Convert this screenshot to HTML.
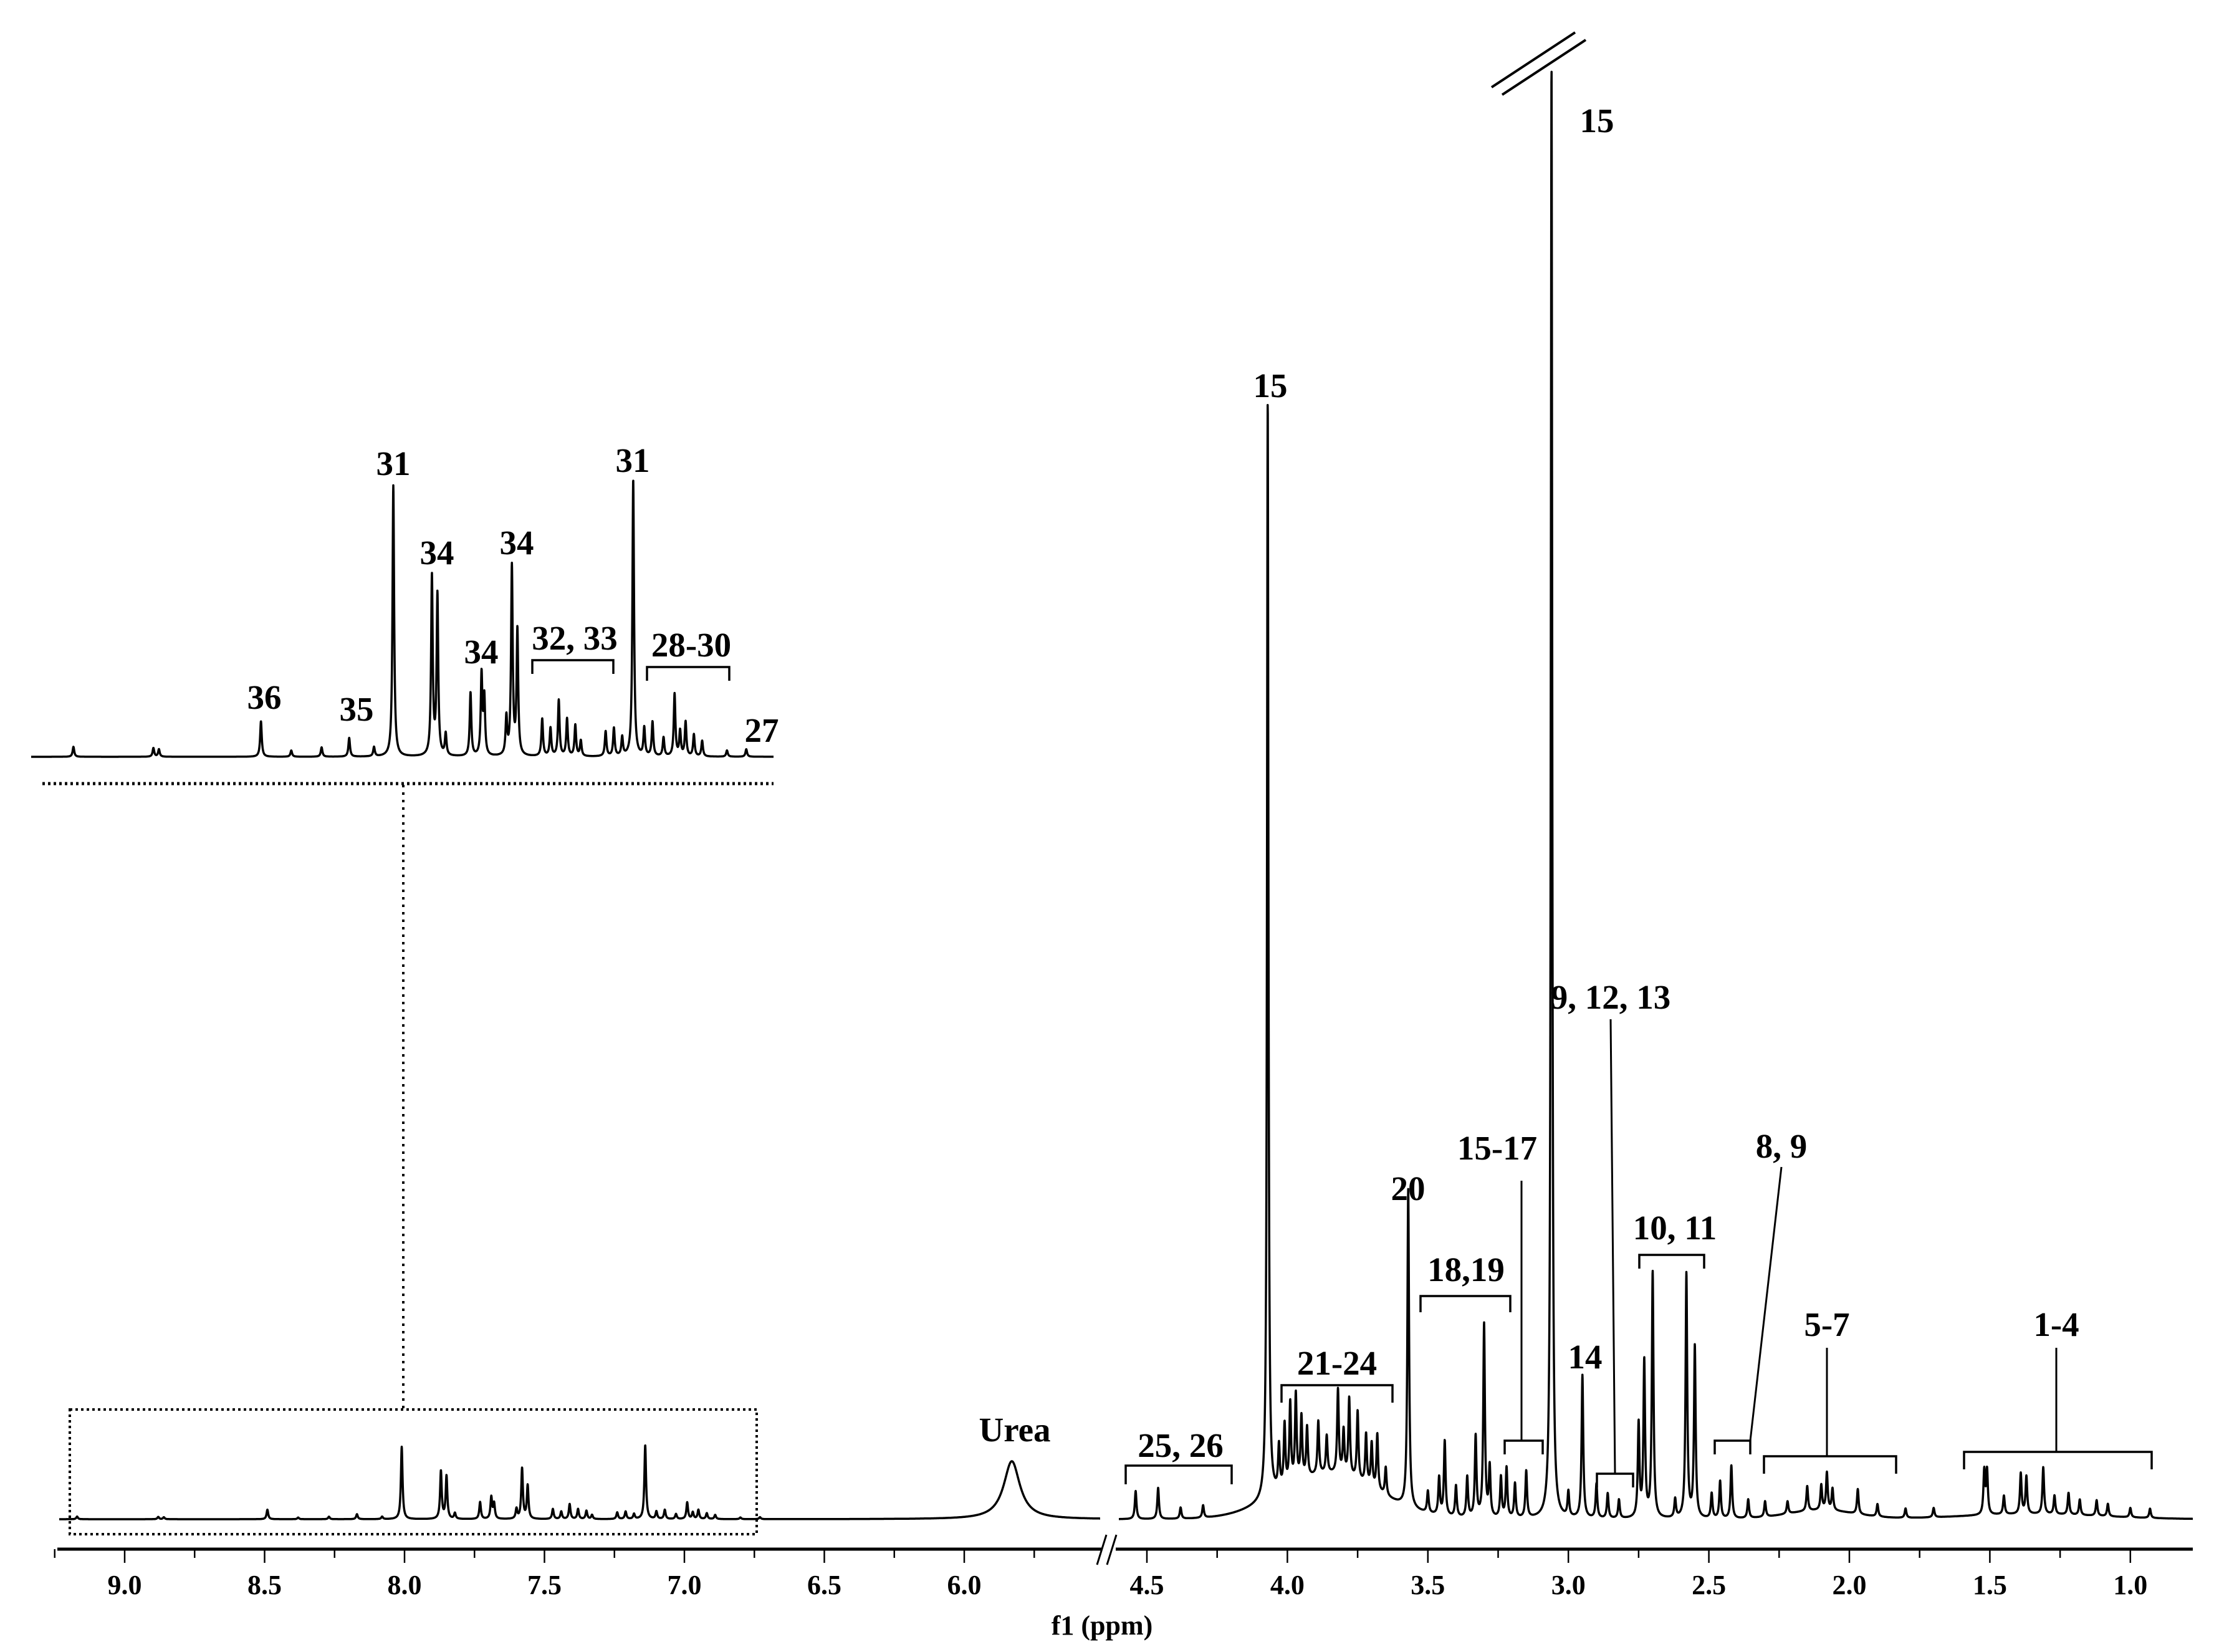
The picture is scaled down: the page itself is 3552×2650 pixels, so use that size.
<!DOCTYPE html>
<html><head><meta charset="utf-8"><style>
html,body{margin:0;padding:0;background:#fff;}
svg{display:block;}
text{font-family:"Liberation Serif",serif;font-weight:bold;fill:#000;}
</style></head><body>
<svg id="chart" width="3552" height="2650" viewBox="0 0 3552 2650" xmlns="http://www.w3.org/2000/svg">
<g id="labels"></g>
</svg>
<script>
// ---- data ----
const aroPpm = [9.17,8.88,8.86,8.49,8.38,8.27,8.17,8.08,8.01,7.87,7.85,7.82,7.73,7.69,7.68,7.60,7.58,7.56,7.47,7.44,7.41,7.38,7.35,7.33,7.24,7.21,7.18,7.14,7.10,7.07,7.03,6.99,6.97,6.95,6.92,6.89,6.80,6.73];
const aroH   = [16,14,12,57,10,15,30,15,435,287,257,35,102,130,91,60,303,200,60,45,90,60,50,25,40,45,30,444,45,55,30,100,40,55,35,25,10,12];
const aliPpm = [4.54,4.46,4.38,4.30,4.07,4.03,4.01,3.99,3.97,3.95,3.93,3.89,3.86,3.82,3.80,3.78,3.75,3.72,3.70,3.68,3.65,3.57,3.50,3.46,3.44,3.40,3.36,3.33,3.30,3.28,3.24,3.22,3.19,3.15,3.06,3.00,2.95,2.90,2.86,2.82,2.75,2.73,2.70,2.62,2.58,2.55,2.49,2.46,2.42,2.36,2.30,2.22,2.15,2.10,2.08,2.06,1.97,1.90,1.80,1.70,1.52,1.51,1.45,1.39,1.37,1.31,1.27,1.22,1.18,1.12,1.08,1.00,0.93];
const aliH   = [45,50,18,20,1763,70,100,130,140,100,80,85,60,135,70,125,110,80,70,90,45,510,35,60,120,50,65,130,310,80,65,80,55,75,2333,40,229,55,40,30,150,250,394,30,392,275,40,60,85,30,25,20,40,40,60,35,40,20,15,15,70,70,30,65,60,75,30,35,25,25,20,15,15];
const urea = {ppm:5.83, h:93, w:0.035};
const ticksMajor = [9.0,8.5,8.0,7.5,7.0,6.5,6.0,4.5,4.0,3.5,3.0,2.5,2.0,1.5,1.0];
const ticksMinor = [9.25,8.75,8.25,7.75,7.25,6.75,6.25,5.75,4.25,3.75,3.25,2.75,2.25,1.75,1.25];

// ---- axes ----
const Y0 = 2437, YI = 1214;
const xL = p => 200 + (9.0 - p) * 449;
const xR = p => 1840 + (4.5 - p) * 450.8;
const xI = p => 631 + (8.01 - p) * 442.4;
const NS = 'http://www.w3.org/2000/svg';
const svg = document.getElementById('chart');
const lab = document.getElementById('labels');
function mk(tag, attrs, parent){const e=document.createElementNS(NS,tag);for(const k in attrs)e.setAttribute(k,attrs[k]);(parent||svg).appendChild(e);return e;}
const lor = (d,w)=>1/(1+(d/w)*(d/w));
function sumAro(p,scale){let s=0;for(let i=0;i<aroPpm.length;i++)s+=aroH[i]*scale*lor(p-aroPpm[i],0.0035);return s;}
function sumAli(p){let s=0;for(let i=0;i<aliPpm.length;i++)s+=aliH[i]*lor(p-aliPpm[i],i===4||i===34?0.003:0.0035);
 s+=72*Math.exp(-Math.pow((p-3.85)/0.17,2)/2)+14*Math.exp(-Math.pow((p-2.1)/0.12,2)/2)+8*Math.exp(-Math.pow((p-1.35)/0.25,2)/2);return s;}
function trace(fInv,x0,x1,base,fn,name){
 let d='';for(let x=x0;x<=x1;x+=0.25){const p=fInv(x);let y=base-fn(p);if(y<100)y=100;d+=(d?'L':'M')+x.toFixed(2)+' '+y.toFixed(1);}
 const e=mk('path',{d:d,fill:'none',stroke:'#000','stroke-width':3.5,'stroke-linejoin':'round'});
 
 
}
const invL = x=>9.0-(x-200)/449, invR = x=>4.5-(x-1840)/450.8, invI = x=>8.01-(x-631)/442.4;
trace(invL,95,1765,Y0,p=>sumAro(p,0.267)+urea.h*lor(p-urea.ppm,urea.w),'spectrum-left-segment');
trace(invR,1795,3518,Y0,sumAli,'spectrum-right-segment');
trace(invI,50,1241,YI,p=>sumAro(p,1),'inset-aromatic-spectrum');

let ax=mk('line',{x1:92,y1:2485,x2:1768,y2:2485,stroke:'#000','stroke-width':5});
 
ax=mk('line',{x1:1790,y1:2485,x2:3518,y2:2485,stroke:'#000','stroke-width':5});
 
let br=mk('path',{d:'M1760 2510 L1775 2462 M1776 2510 L1791 2462',stroke:'#000','stroke-width':3,fill:'none'});
 
ticksMajor.forEach(t=>{const x=t>5?xL(t):xR(t);
 const l=mk('line',{x1:x,y1:2485,x2:x,y2:2507,stroke:'#000','stroke-width':2.5});
  
 const tx=mk('text',{x:x,y:2557,'font-size':44,'text-anchor':'middle'}); tx.textContent=t.toFixed(1);
  });
ticksMinor.forEach(t=>{const x=t>5?xL(t):xR(t);
 const l=mk('line',{x1:x,y1:2485,x2:x,y2:2499,stroke:'#000','stroke-width':2.5});
  });
let xt=mk('text',{x:1768,y:2622,'font-size':44,'text-anchor':'middle'}); xt.textContent='f1 (ppm)';
 

let bm=mk('path',{d:'M2393 140 L2527 52 M2410 152 L2544 64',stroke:'#000','stroke-width':4,fill:'none'});
 

let db=mk('rect',{x:112,y:2261,width:1102,height:200,fill:'none',stroke:'#000','stroke-width':4,'stroke-dasharray':'4 5'});
 
let dv=mk('line',{x1:647,y1:1259,x2:647,y2:2261,stroke:'#000','stroke-width':4,'stroke-dasharray':'4 8'});
 
let dh=mk('line',{x1:68,y1:1257,x2:1241,y2:1257,stroke:'#000','stroke-width':5,'stroke-dasharray':'4 5'});
 

const L=[["15",2562,212],["15",2038,637],["Urea",1628,2312],["25, 26",1894,2337],["21-24",2145,2205],["20",2259,1925],["15-17",2402,1860],["18,19",2352,2055],["9, 12, 13",2584,1618],["14",2543,2195],["10, 11",2687,1988],["8, 9",2858,1857],["5-7",2931,2143],["1-4",3299,2143],
["31",631,762],["31",1015,757],["34",701,905],["34",772,1064],["34",829,889],["36",424,1137],["35",572,1156],["32, 33",922,1042],["28-30",1109,1053],["27",1222,1190]];
L.forEach(l=>{const t=mk('text',{x:l[1],y:l[2],'font-size':55,'text-anchor':'middle'},lab);t.textContent=l[0];
  });
const B=[[1806,1976,2351,30],[2056,2234,2222,28],[2279,2423,2079,26],[2414,2475,2311,22],[2630,2734,2013,22],[2751,2808,2311,22],[2562,2620,2364,22],[2830,3042,2336,28],[3151,3452,2329,28],[854,984,1059,22],[1038,1170,1070,22]];
B.forEach(b=>{const p=mk('path',{d:`M${b[0]} ${b[2]+b[3]} L${b[0]} ${b[2]} L${b[1]} ${b[2]} L${b[1]} ${b[2]+b[3]}`,fill:'none',stroke:'#000','stroke-width':3.5});
  });
const LL=[[2441,1894,2441,2311],[2584,1635,2591,2364],[2858,1872,2808,2311],[2931,2162,2931,2336],[3299,2162,3299,2329]];
LL.forEach(l=>{const p=mk('line',{x1:l[0],y1:l[1],x2:l[2],y2:l[3],stroke:'#000','stroke-width':3});
  });
</script>
</body></html>
